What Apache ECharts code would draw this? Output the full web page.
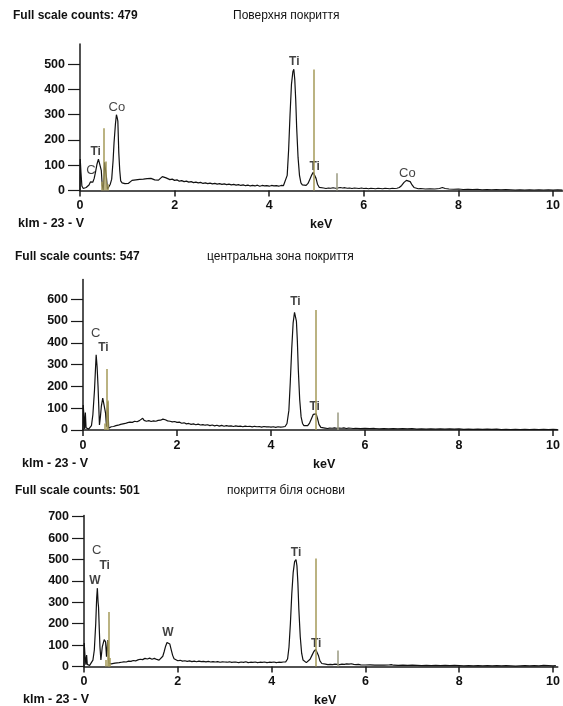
<!DOCTYPE html>
<html>
<head>
<meta charset="utf-8">
<script src="https://cdn.jsdelivr.net/npm/echarts@6/dist/echarts.min.js"></script>
<style>
  html, body { margin: 0; padding: 0; background: #fff; }
  #main { width: 563px; height: 706px; }
</style>
</head>
<body>
<div id="main"></div>
<script>
// spectrum 1: поверхня покриття, [keV, counts]
var spec1 = [
  [0,0],[0.005,125],[0.02,72],[0.04,18],[0.07,8],[0.10,9],[0.13,12],[0.16,14],[0.19,22],[0.22,34],
  [0.25,38],[0.27,33],[0.30,48],[0.33,75],[0.36,105],[0.39,124],[0.41,128],[0.43,118],[0.45,80],[0.47,20],
  [0.49,2],[0.51,60],[0.52,112],[0.54,115],[0.56,50],[0.58,5],[0.61,8],[0.64,25],[0.67,45],[0.70,120],
  [0.72,190],[0.75,265],[0.77,300],[0.79,285],[0.80,275],[0.82,150],[0.84,80],[0.86,38],[0.89,30],[0.92,33],
  [0.95,27],[0.98,31],[1.02,28],[1.06,35],[1.10,40],[1.14,36],[1.18,42],[1.22,39],[1.26,44],[1.30,40],
  [1.34,45],[1.38,41],[1.42,47],[1.46,43],[1.50,48],[1.54,44],[1.58,42],[1.62,46],[1.66,41],[1.70,47],
  [1.74,55],[1.78,57],[1.82,50],[1.86,46],[1.90,43],[1.95,45],[2.00,40],[2.05,42],[2.10,37],[2.15,39],
  [2.20,35],[2.25,37],[2.30,33],[2.35,35],[2.40,31],[2.45,33],[2.50,30],[2.55,32],[2.60,28],[2.65,30],
  [2.70,27],[2.75,29],[2.80,26],[2.85,28],[2.90,25],[2.95,27],[3.00,24],[3.05,26],[3.10,23],[3.15,25],
  [3.20,22],[3.25,24],[3.30,21],[3.35,23],[3.40,20],[3.45,22],[3.50,19],[3.55,21],[3.60,18],[3.65,20],
  [3.70,18],[3.75,21],[3.80,17],[3.85,20],[3.90,18],[3.95,19],[4.00,17],[4.05,20],[4.10,18],[4.15,19],
  [4.20,17],[4.25,20],[4.30,19],[4.34,26],[4.38,60],[4.41,160],[4.44,300],[4.47,420],[4.50,470],[4.52,480],
  [4.54,440],[4.56,360],[4.58,250],[4.61,130],[4.64,60],[4.67,30],[4.70,22],[4.74,18],[4.78,20],[4.82,28],
  [4.86,45],[4.90,62],[4.93,72],[4.96,68],[4.99,48],[5.02,25],[5.06,12],[5.10,9],[5.15,10],[5.20,8],
  [5.25,10],[5.30,9],[5.35,11],[5.40,9],[5.45,10],[5.50,12],[5.55,10],[5.60,11],[5.65,9],[5.70,10],
  [5.75,8],[5.80,10],[5.85,9],[5.90,8],[5.95,10],[6.00,8],[6.05,9],[6.10,7],[6.15,9],[6.20,8],
  [6.25,7],[6.30,9],[6.35,8],[6.40,7],[6.45,9],[6.50,8],[6.55,7],[6.60,9],[6.65,8],[6.70,9],
  [6.75,12],[6.80,20],[6.85,32],[6.90,40],[6.94,41],[6.98,35],[7.02,22],[7.06,12],[7.10,8],[7.15,7],
  [7.20,8],[7.30,6],[7.40,7],[7.50,6],[7.60,8],[7.66,12],[7.72,8],[7.80,6],[7.90,5],[8.00,6],
  [8.10,4],[8.20,5],[8.30,4],[8.40,5],[8.50,3],[8.60,4],[8.70,3],[8.80,4],[8.90,3],[9.00,4],
  [9.10,3],[9.20,2],[9.30,3],[9.40,2],[9.50,3],[9.60,2],[9.70,3],[9.80,2],[9.90,3],[10.00,2],
  [10.10,3],[10.20,2]
];

// spectrum 2: центральна зона покриття
var spec2 = [
  [0,0],[0.005,115],[0.02,60],[0.035,5],[0.05,80],[0.065,10],[0.09,3],[0.12,4],[0.15,6],[0.18,20],
  [0.21,70],[0.245,185],[0.27,300],[0.28,345],[0.30,290],[0.32,200],[0.33,140],[0.35,23],[0.37,60],[0.39,108],
  [0.42,146],[0.455,154],[0.48,77],[0.50,15],[0.525,130],[0.547,8],[0.57,12],[0.60,15],[0.65,16],[0.70,20],
  [0.75,22],[0.80,26],[0.85,28],[0.90,30],[0.95,34],[1.00,36],[1.05,35],[1.10,40],[1.15,38],[1.20,43],
  [1.24,45],[1.27,54],[1.30,44],[1.35,40],[1.40,43],[1.45,39],[1.50,42],[1.55,40],[1.60,44],[1.65,45],
  [1.70,50],[1.75,47],[1.80,42],[1.85,40],[1.90,37],[1.95,39],[2.00,35],[2.05,36],[2.10,31],[2.15,33],
  [2.20,28],[2.25,30],[2.30,26],[2.35,28],[2.40,24],[2.45,27],[2.50,23],[2.55,25],[2.60,22],[2.65,24],
  [2.70,20],[2.75,23],[2.80,19],[2.85,22],[2.90,18],[2.95,21],[3.00,17],[3.05,20],[3.10,18],[3.15,19],
  [3.20,16],[3.25,19],[3.30,17],[3.35,18],[3.40,15],[3.45,18],[3.50,16],[3.55,17],[3.60,14],[3.65,17],
  [3.70,15],[3.75,16],[3.80,13],[3.85,16],[3.90,14],[3.95,15],[4.00,13],[4.05,15],[4.10,12],[4.15,15],
  [4.20,13],[4.25,14],[4.30,16],[4.34,30],[4.38,90],[4.41,220],[4.44,370],[4.47,490],[4.50,540],[4.52,547],
  [4.54,500],[4.56,410],[4.58,280],[4.61,140],[4.64,60],[4.67,30],[4.70,20],[4.74,16],[4.78,20],[4.82,32],
  [4.86,52],[4.90,72],[4.93,80],[4.96,74],[4.99,52],[5.02,26],[5.06,12],[5.10,8],[5.15,9],[5.20,7],
  [5.25,9],[5.30,8],[5.35,10],[5.40,8],[5.45,9],[5.50,8],[5.55,10],[5.60,7],[5.65,9],[5.70,8],
  [5.75,7],[5.80,8],[5.90,6],[6.00,7],[6.10,6],[6.20,7],[6.30,5],[6.40,6],[6.50,5],[6.60,6],
  [6.70,5],[6.80,6],[6.90,5],[7.00,6],[7.10,4],[7.20,5],[7.30,4],[7.40,5],[7.50,4],[7.60,5],
  [7.70,4],[7.80,5],[7.90,4],[8.00,5],[8.10,3],[8.20,4],[8.30,3],[8.40,4],[8.50,3],[8.60,4],
  [8.70,3],[8.80,4],[8.90,2],[9.00,3],[9.10,2],[9.20,3],[9.30,2],[9.40,3],[9.50,2],[9.60,3],
  [9.70,2],[9.80,3],[9.90,2],[10.00,3],[10.10,2]
];

// spectrum 3: покриття біля основи
var spec3 = [
  [0,0],[0.005,110],[0.02,54],[0.04,8],[0.056,54],[0.07,10],[0.09,3],[0.12,5],[0.16,8],[0.19,30],
  [0.22,77],[0.25,200],[0.27,320],[0.285,366],[0.30,300],[0.31,277],[0.325,180],[0.34,92],[0.36,31],[0.39,92],
  [0.43,126],[0.46,115],[0.48,46],[0.505,123],[0.53,15],[0.56,10],[0.58,12],[0.62,14],[0.66,16],[0.70,15],
  [0.75,18],[0.80,20],[0.85,22],[0.90,21],[0.95,25],[1.00,24],[1.05,28],[1.10,26],[1.15,31],[1.20,34],
  [1.25,32],[1.30,38],[1.35,35],[1.40,39],[1.45,34],[1.50,38],[1.55,33],[1.60,30],[1.64,36],[1.68,48],
  [1.71,70],[1.74,95],[1.77,112],[1.80,120],[1.83,105],[1.86,78],[1.89,52],[1.92,36],[1.96,30],[2.00,27],
  [2.05,29],[2.10,25],[2.15,27],[2.20,24],[2.25,26],[2.30,23],[2.35,25],[2.40,22],[2.45,25],[2.50,23],
  [2.55,24],[2.60,22],[2.65,24],[2.70,21],[2.75,23],[2.80,21],[2.85,23],[2.90,20],[2.95,22],[3.00,21],
  [3.05,20],[3.10,22],[3.15,19],[3.20,21],[3.25,20],[3.30,18],[3.35,21],[3.40,19],[3.45,22],[3.50,18],
  [3.55,20],[3.60,19],[3.65,21],[3.70,18],[3.75,20],[3.80,19],[3.85,21],[3.90,18],[3.95,20],[4.00,19],
  [4.05,21],[4.10,18],[4.15,20],[4.20,19],[4.25,21],[4.30,22],[4.34,35],[4.37,90],[4.40,200],[4.43,340],
  [4.46,440],[4.49,490],[4.52,500],[4.54,470],[4.56,390],[4.58,270],[4.61,140],[4.64,62],[4.67,30],[4.70,22],
  [4.74,18],[4.78,22],[4.82,34],[4.86,52],[4.90,70],[4.94,80],[4.97,72],[5.00,50],[5.03,26],[5.07,14],
  [5.10,10],[5.15,11],[5.20,9],[5.25,10],[5.30,9],[5.35,11],[5.40,10],[5.45,9],[5.50,11],[5.55,10],
  [5.60,12],[5.65,11],[5.70,13],[5.75,10],[5.80,9],[5.85,10],[5.90,8],[6.00,7],[6.10,8],[6.20,6],
  [6.30,7],[6.40,6],[6.50,7],[6.55,9],[6.60,6],[6.70,5],[6.80,6],[6.90,5],[7.00,6],[7.10,5],
  [7.20,4],[7.30,5],[7.40,4],[7.50,5],[7.60,4],[7.70,5],[7.80,4],[7.90,5],[8.00,4],[8.10,3],
  [8.20,4],[8.30,3],[8.40,4],[8.50,3],[8.60,4],[8.70,3],[8.80,4],[8.90,3],[9.00,4],[9.10,3],
  [9.20,2],[9.30,3],[9.40,4],[9.50,3],[9.60,4],[9.70,3],[9.80,5],[9.90,4],[10.00,3],[10.06,4]
];

// KLM marker lines [keV, height]
var markers1 = [[0.46,35],[0.51,246],[0.55,115],[0.59,25],[4.95,479],[5.42,68]];
var markers2 = [[0.46,30],[0.51,280],[0.53,135],[4.95,550],[5.42,80]];
var markers3 = [[0.46,30],[0.50,120],[0.52,255],[0.54,40],[4.95,505],[5.42,75]];

// peak labels [keV, counts, element]
var labels1 = [[0.23,79,'C'],[0.33,155,'Ti'],[0.78,330,'Co'],[4.53,509,'Ti'],[4.96,95,'Ti'],[6.92,69,'Co']];
var labels2 = [[0.27,443,'C'],[0.435,377,'Ti'],[4.52,590,'Ti'],[4.93,107,'Ti']];
var labels3 = [[0.27,540,'C'],[0.44,472,'Ti'],[0.23,400,'W'],[1.79,156,'W'],[4.52,534,'Ti'],[4.95,107,'Ti']];

var xTicks = [0, 2, 4, 6, 8, 10];
var yTicks1 = [0, 100, 200, 300, 400, 500];
var yTicks2 = [0, 100, 200, 300, 400, 500, 600];
var yTicks3 = [0, 100, 200, 300, 400, 500, 600, 700];

var fullScale = [479, 547, 501];
var panelTitles = ['Поверхня покриття', 'центральна зона покриття', 'покриття біля основи'];

var FONT = '"Liberation Sans", Arial, sans-serif';
var boldElements = ['Ti', 'W'];

var grids = [
  { left: 80, top: 44, width: 484.5, height: 146.5 },
  { left: 83, top: 279.6, width: 480.8, height: 150.4 },
  { left: 84, top: 515.6, width: 479.8, height: 150.9 }
];
var xMax = [10.2, 10.1, 10.1];
var yMax = [580, 690, 705];
var yTicks = [yTicks1, yTicks2, yTicks3];
var specs = [spec1, spec2, spec3];
var markers = [markers1, markers2, markers3];
var labels = [labels1, labels2, labels3];

var chart = echarts.init(document.getElementById('main'));

var axisLine = { show: true, lineStyle: { color: '#1a1a1a', width: 1.5 } };
var xAxes = [], yAxes = [], series = [], graphics = [];

for (var i = 0; i < 3; i++) {
  xAxes.push({
    type: 'value', gridIndex: i, min: 0, max: xMax[i],
    axisLine: axisLine,
    axisTick: { show: true, length: 6, customValues: xTicks, lineStyle: { color: '#1a1a1a', width: 1.5 } },
    axisLabel: { customValues: xTicks, margin: 9, color: '#111', fontFamily: FONT, fontWeight: 'bold', fontSize: 12.5 },
    splitLine: { show: false }
  });
  yAxes.push({
    type: 'value', gridIndex: i, min: 0, max: yMax[i],
    axisLine: axisLine,
    axisTick: { show: true, length: 12, customValues: yTicks[i], lineStyle: { color: '#1a1a1a', width: 1.2 } },
    axisLabel: { customValues: yTicks[i], margin: 15, color: '#111', fontFamily: FONT, fontWeight: 'bold', fontSize: 12.5 },
    splitLine: { show: false }
  });

  series.push({
    type: 'line', xAxisIndex: i, yAxisIndex: i, data: specs[i],
    showSymbol: false, animation: false, silent: true, z: 3,
    lineStyle: { color: '#111', width: 1.2 },
    markLine: {
      silent: true, symbol: ['none', 'none'], animation: false,
      label: { show: false },
      data: markers[i].map(function (m) {
        var col = m[0] > 5.2 ? '#9a9a80' : '#a59a58';
        return [{ coord: [m[0], 0], lineStyle: { color: col, width: 1.5, type: 'solid' } },
                { coord: [m[0], m[1]] }];
      })
    }
  });

  series.push({
    type: 'scatter', xAxisIndex: i, yAxisIndex: i, symbolSize: 0, animation: false, silent: true, z: 4,
    data: labels[i].map(function (l) {
      var b = boldElements.indexOf(l[2]) >= 0;
      return {
        value: [l[0], l[1]], name: l[2],
        label: { fontFamily: FONT, fontWeight: b ? 'bold' : 'normal', fontSize: b ? 12 : 13 }
      };
    }),
    label: {
      show: true, position: 'inside', color: '#111',
      formatter: function (p) { return p.name; }
    },
    labelLayout: { hideOverlap: false }
  });

  var g = grids[i];
  var base = g.top + g.height;
  graphics.push({
    type: 'text', left: 13 + (i ? 2 : 0), top: [10, 251, 485][i],
    style: { text: 'Full scale counts: ' + fullScale[i], font: 'bold 12px ' + FONT, fill: '#111' }
  });
  graphics.push({
    type: 'text', left: [233, 207, 227][i], top: [10, 251, 485][i],
    style: { text: panelTitles[i], font: '12px ' + FONT, fill: '#111' }
  });
  graphics.push({
    type: 'text', left: [18, 22, 23][i], top: base + 27,
    style: { text: 'klm - 23 - V', font: 'bold 12.5px ' + FONT, fill: '#111' }
  });
  graphics.push({
    type: 'text', left: [310, 313, 314][i], top: base + 28,
    style: { text: 'keV', font: 'bold 12.5px ' + FONT, fill: '#111' }
  });
}

chart.setOption({
  backgroundColor: '#fff',
  animation: false,
  grid: grids,
  xAxis: xAxes,
  yAxis: yAxes,
  series: series,
  graphic: graphics
});
</script>
</body>
</html>
